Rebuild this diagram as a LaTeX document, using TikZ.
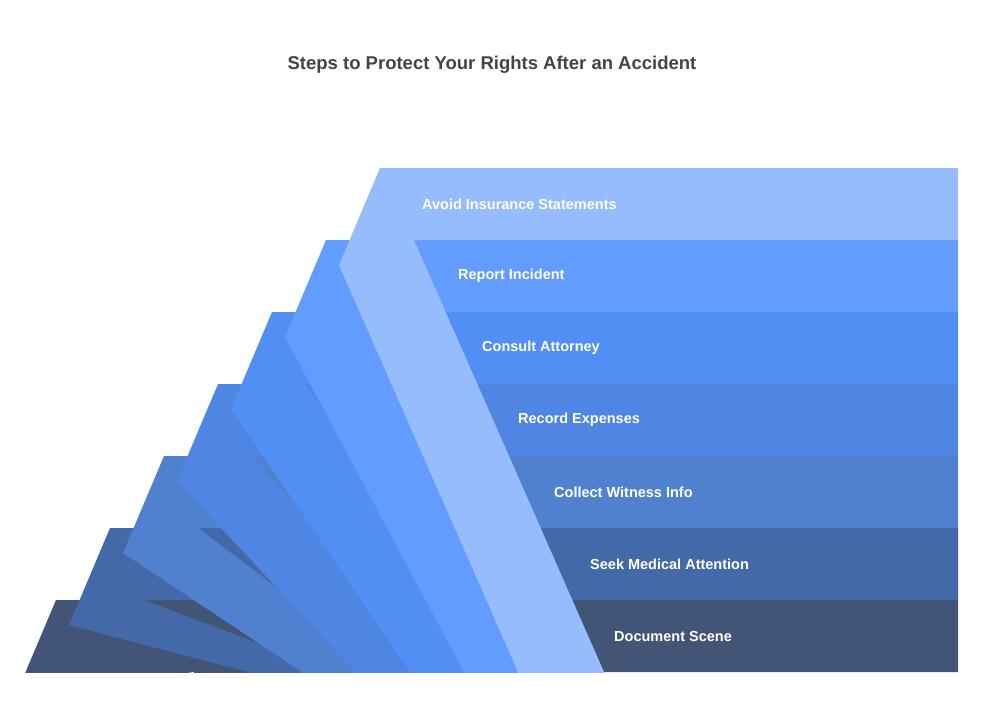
\documentclass[tikz,border=0pt]{standalone}
\usepackage{fontspec}
\setmainfont{Liberation Sans}
\begin{document}
\begin{tikzpicture}[x=1pt,y=-1pt,
  lbl/.style={anchor=west,text=white,font=\bfseries\fontsize{14.5}{16}\selectfont,inner sep=0pt}]
\useasboundingbox[fill=white] (0,0) rectangle (982,721);
\node[font=\bfseries\fontsize{18.5}{22}\selectfont,text={rgb,255:red,68;green,68;blue,68}] (title) at (492,65) {Steps to Protect Your Rights After an Accident};
\definecolor{c0}{HTML}{97BCFE}
\definecolor{c1}{HTML}{619CFE}
\definecolor{c2}{HTML}{518FF4}
\definecolor{c3}{HTML}{4F86E3}
\definecolor{c4}{HTML}{5081CF}
\definecolor{c5}{HTML}{4469A9}
\definecolor{c6}{HTML}{435577}
\begin{scope}
\clip (0,0) rectangle (982,672);
\foreach \k in {6,5,...,0}{
  \pgfmathsetmacro{\xo}{380-54*\k}
  \pgfmathsetmacro{\yt}{168+72*\k}
  \fill[c\k] (\xo,\yt) -- (958,\yt) -- (958,\yt+72) -- (\xo+34,\yt+72) -- (\xo+224,672+0.44*0) -- (\xo+224,740) -- (\xo+138,740) -- (\xo+138,672) -- (\xo-41,\yt+97) -- cycle;
}
\end{scope}
\node[lbl] (l0) at (422,204) {Avoid Insurance Statements};
\node[lbl] (l1) at (458,276) {Report Incident};
\node[lbl] (l2) at (482,348) {Consult Attorney};
\node[lbl] (l3) at (518,420) {Record Expenses};
\node[lbl] (l4) at (554,492) {Collect Witness Info};
\node[lbl] (l5) at (590,564) {Seek Medical Attention};
\node[lbl] (l6) at (614,636) {Document Scene};
\end{tikzpicture}
\end{document}
